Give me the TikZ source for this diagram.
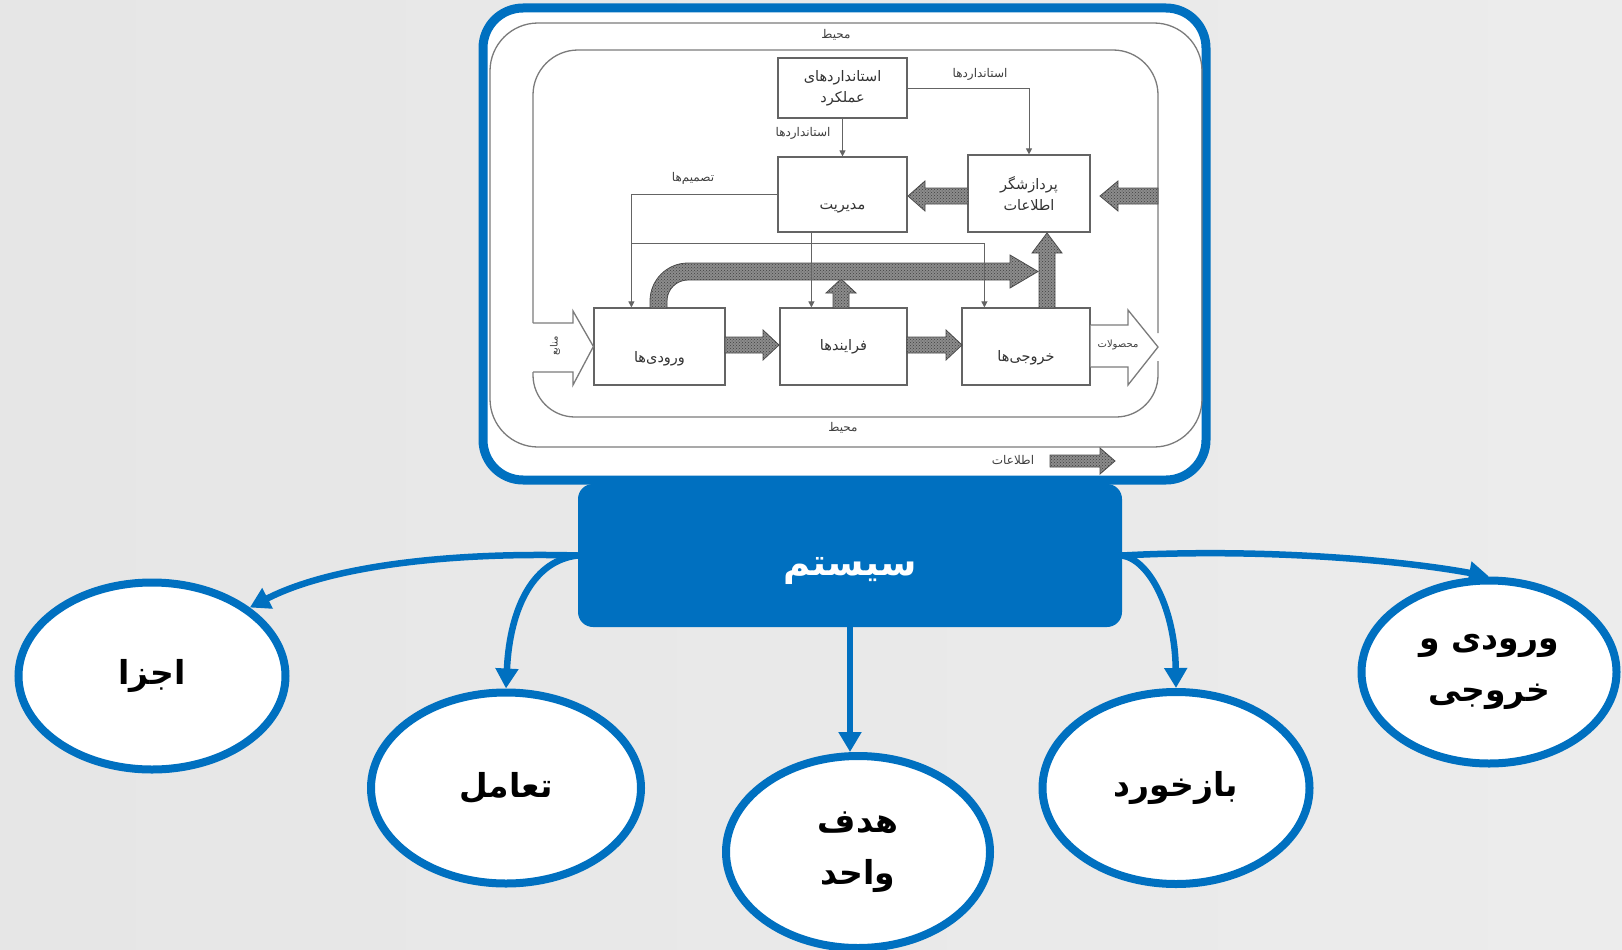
\documentclass[tikz,border=0pt]{standalone}
\usepackage{fontspec}
\usetikzlibrary{arrows.meta,shapes.geometric,patterns,calc}
\TeXXeTstate=1
\newfontfamily\fa[Script=Arabic]{DejaVu Sans}
\definecolor{sysblue}{RGB}{0,112,192}
\definecolor{linegray}{RGB}{100,100,100}
\definecolor{bgL}{RGB}{230,230,230}
\definecolor{bgM}{RGB}{247,247,247}
\definecolor{bgR}{RGB}{236,236,236}

% horizontal information arrow: tail x, head base x, tip x, centre y
\newcommand\infoh[4]{\draw[info] (#1,#4-8) -- (#2,#4-8) -- (#2,#4-15) -- (#3,#4) -- (#2,#4+15) -- (#2,#4+8) -- (#1,#4+8) -- cycle;}
% vertical information arrow: centre x, tail y, head base y, tip y
\newcommand\infov[4]{\draw[info] (#1-8,#2) -- (#1-8,#3) -- (#1-15,#3) -- (#1,#4) -- (#1+15,#3) -- (#1+8,#3) -- (#1+8,#2) -- cycle;}
% text set below the centre of its block
\newcommand\lowtext[2]{\raisebox{-#1}[0pt][0pt]{#2}}

\begin{document}
\begin{tikzpicture}[x=1pt,y=-1pt,
  box/.style={draw=linegray, line width=1.2pt, fill=white, inner sep=0pt, align=center,
    font=\fa\fontsize{14.5}{21}\selectfont, text=black!80},
  tiny/.style={font=\fa\fontsize{12}{14}\selectfont, text=black!75, inner sep=0pt},
  conn/.style={draw=linegray, line width=1pt, -{Triangle[width=6pt,length=6pt]}},
  info/.style={draw=black!70, line width=0.8pt, fill=black!45,
    postaction={pattern=crosshatch dots, pattern color=black!75}},
  env/.style={draw=linegray!85, line width=1.3pt},
  bubble/.style={ellipse, draw=sysblue, line width=8pt, fill=white, inner sep=0pt, align=center,
    font=\fa\bfseries\fontsize{33}{52}\selectfont},
  link/.style={draw=sysblue, line width=6.5pt, -{Triangle[width=22pt,length=20pt]}},
]
\useasboundingbox (0,0) rectangle (1622,950);
\shade[left color=bgL, middle color=bgM, right color=bgR] (0,0) rectangle (1622,950);

% framed system picture
\draw[sysblue, line width=9pt, rounded corners=40pt, fill=white] (483,8) rectangle (1206,480);

% environment
\draw[env, rounded corners=48pt] (490,23) rectangle (1202,447);
\node[tiny] (envtop) at (836,35) {\beginR محیط\endR};
\node[tiny] (envbot) at (843,428) {\beginR محیط\endR};

% system boundary, opened by the input and output arrows
\draw[env, rounded corners=45pt] (533,323) -- (533,50) -- (1158,50) -- (1158,333);
\draw[env, rounded corners=42pt] (533,372) -- (533,417) -- (1158,417) -- (1158,361);

% blocks
\node[box, minimum width=129pt, minimum height=60pt] (std) at (842.5,88)
  {\beginR استانداردهای\endR\\\beginR عملکرد\endR};
\node[box, minimum width=129pt, minimum height=75pt] (mgmt) at (842.5,194.5)
  {\lowtext{15pt}{\beginR مدیریت\endR}};
\node[box, minimum width=122pt, minimum height=77pt] (proc) at (1029,193.5)
  {\beginR پردازشگر\endR\\\beginR اطلاعات\endR};
\node[box, minimum width=131pt, minimum height=77pt] (inp) at (659.5,346.5)
  {\lowtext{16pt}{\beginR ورودی‌ها\endR}};
\node[box, minimum width=127pt, minimum height=77pt] (prc) at (843.5,346.5)
  {\beginR فرایندها\endR};
\node[box, minimum width=128pt, minimum height=77pt] (out) at (1026,346.5)
  {\lowtext{15pt}{\beginR خروجی‌ها\endR}};

% resources in, products out
\draw[env, fill=white] (533,323) -- (573,323) -- (573,311) -- (inp.west) -- (573,385) -- (573,372) -- (533,372);
\node[tiny, rotate=90, font=\fa\fontsize{10}{12}\selectfont] (res) at (555,346) {\beginR منابع\endR};
\draw[env, fill=white] ($(out.east)+(0,-21.5)$) -- (1128,325) -- (1128,310) -- (1158,347)
  -- (1128,385) -- (1128,367) -- ($(out.east)+(0,20.5)$);
\node[tiny, font=\fa\fontsize{10}{12}\selectfont] (prod) at (1118,345) {\beginR محصولات\endR};

% information flows
\infoh{1158}{1118}{1100}{196}
\infoh{968}{925}{908}{196}
\infoh{725}{763}{779}{345}
\infoh{907}{946}{962}{345}
\infov{841}{308}{293}{279}
\infov{1047}{308}{253}{233}
\draw[info] (650,308) -- (650,301) .. controls (650,280) and (667,263) .. (688,263) -- (1010,263)
  -- (1010,255) -- (1038,271.5) -- (1010,288) -- (1010,280) -- (688,280)
  .. controls (676.4,280) and (667,289.4) .. (667,301) -- (667,308) -- cycle;

% standards, decisions and control lines
\coordinate (dec) at ($(inp.north west)+(38,0)$);
\coordinate (busL) at (632,243);
\coordinate (outin) at ($(out.north west)+(23,0)$);
\coordinate (mgin) at ($(mgmt.south west)+(34,0)$);
\draw[conn] (std.east) -| (proc.north);
\draw[conn] (std.south) -- (mgmt.north);
\draw[conn] (mgmt.west) -| (dec);
\draw[conn] (busL) -| (outin);
\draw[conn] (mgin) -- (mgin |- prc.north);
\node[tiny] (lstd1) at (980,74) {\beginR استانداردها\endR};
\node[tiny] (lstd2) at (803,133) {\beginR استانداردها\endR};
\node[tiny] (ldec) at (693,178) {\beginR تصمیم‌ها\endR};

% legend
\node[tiny] (leg) at (1013,460) {\beginR اطلاعات\endR};
\draw[info] (1050,455) -- (1100,455) -- (1100,448) -- (1115,461) -- (1100,474) -- (1100,467) -- (1050,467) -- cycle;

% system title
\node[fill=sysblue, rounded corners=15pt, minimum width=544pt, minimum height=143pt, inner sep=0pt,
  text=white, font=\fa\bfseries\fontsize{37}{40}\selectfont] (sys) at (850,555.5)
  {\lowtext{20pt}{\beginR سیستم\endR}};

% properties
\node[bubble, minimum width=267pt, minimum height=187pt] (e1) at (152,676) {\beginR اجزا\endR};
\node[bubble, minimum width=270pt, minimum height=191pt] (e2) at (506,788) {\beginR تعامل\endR};
\node[bubble, minimum width=264pt, minimum height=192pt] (e3) at (858,852) {\beginR هدف\endR\\\beginR واحد\endR};
\node[bubble, minimum width=267pt, minimum height=192pt] (e4) at (1176,788) {\beginR بازخورد\endR};
\node[bubble, minimum width=255pt, minimum height=183pt] (e5) at (1489,672) {\beginR ورودی و\endR\\\beginR خروجی\endR};

\draw[link] (sys.west) .. controls (450,552) and (330,566) .. (e1.35);
\draw[link] (sys.west) .. controls (535,560) and (510,605) .. (e2.north);
\draw[link] (sys.south) -- (sys.south |- e3.north);
\draw[link] (sys.east) .. controls (1150,560) and (1175,610) .. (e4.north);
\draw[link] (sys.east) .. controls (1260,548) and (1400,560) .. (e5.north);
\end{tikzpicture}
\end{document}
